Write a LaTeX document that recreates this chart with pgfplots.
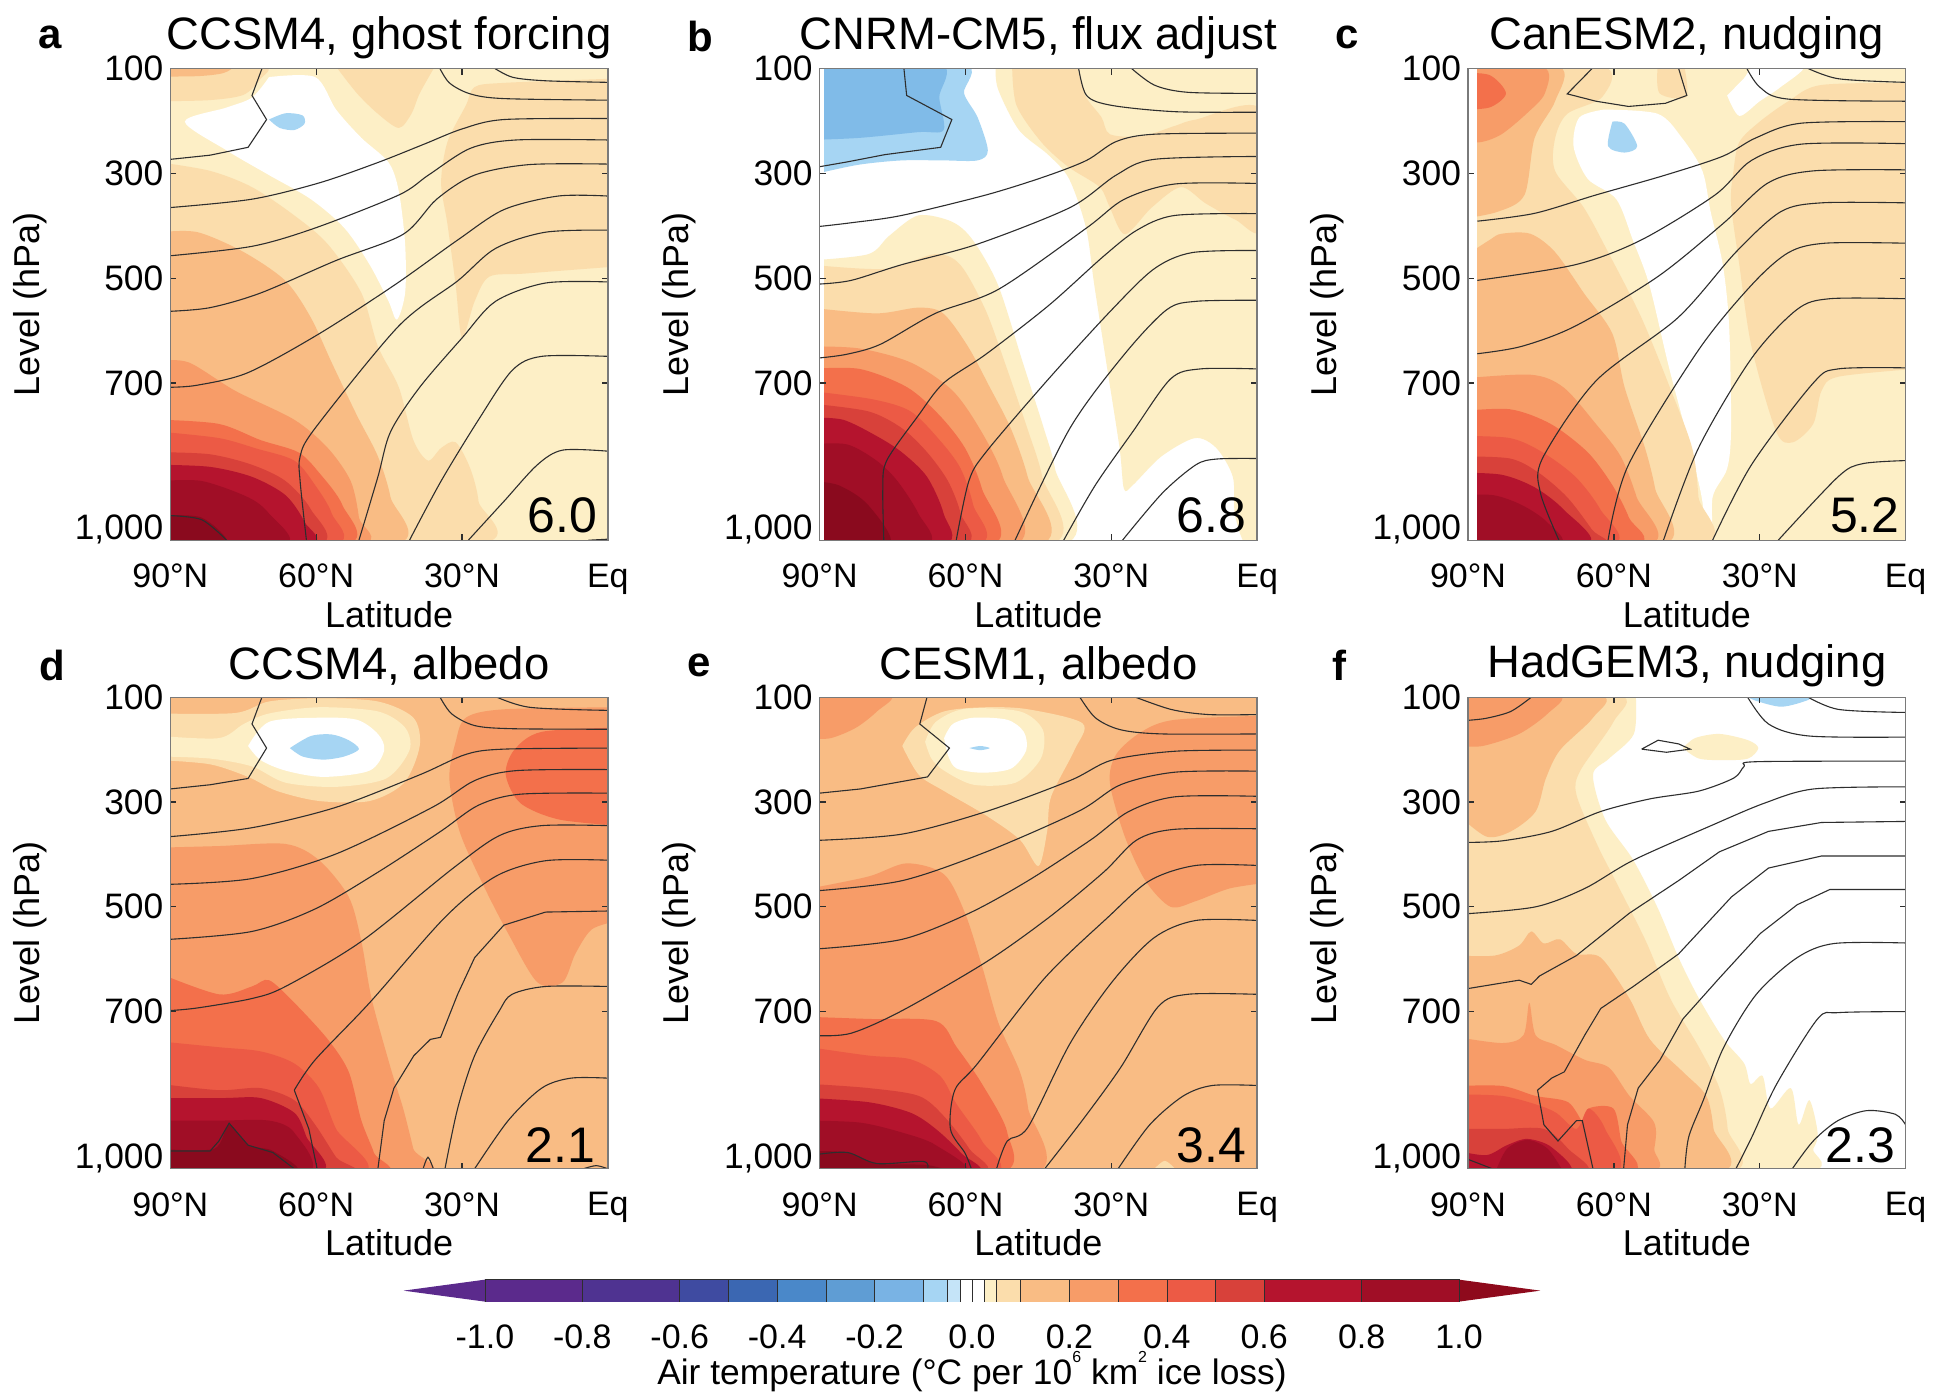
\documentclass[border=0pt]{standalone}
\usepackage{fontspec}
\usepackage{pgfplots}
\pgfplotsset{compat=1.18}
\setmainfont{Liberation Sans}
\definecolor{cb}{HTML}{FDEFC6}
\definecolor{cc}{HTML}{FBDDAC}
\definecolor{cd}{HTML}{F9BC84}
\definecolor{ce}{HTML}{F79C68}
\definecolor{cf}{HTML}{F3704B}
\definecolor{cg}{HTML}{EC5A45}
\definecolor{ch}{HTML}{D8413A}
\definecolor{ci}{HTML}{B5142E}
\definecolor{cj}{HTML}{A00E26}
\definecolor{ck}{HTML}{8A0A1E}
\definecolor{bla}{HTML}{A6D5F3}
\definecolor{blb}{HTML}{80BBE8}
\definecolor{HTMLa}{HTML}{5B2A8C}
\definecolor{HTMLb}{HTML}{4F3391}
\definecolor{HTMLc}{HTML}{3F4BA1}
\definecolor{HTMLd}{HTML}{3B67B2}
\definecolor{HTMLe}{HTML}{4A88C9}
\definecolor{HTMLf}{HTML}{5F9DD4}
\definecolor{HTMLg}{HTML}{79B3E4}
\definecolor{HTMLh}{HTML}{C5E4F8}
\definecolor{HTMLl}{HTML}{8E0A1C}
\definecolor{cline}{HTML}{2E2E2E}
\definecolor{axc}{HTML}{7A7A7A}
\newcommand{\reg}[2]{\addplot[fill=#1,draw=none,smooth,tension=.5] coordinates {#2};}
\newcommand{\bgr}[1]{\addplot[fill=#1,draw=none] coordinates {(-2,95)(92,95)(92,1010)(-2,1010)};}
\newcommand{\cnt}[1]{\addplot[cline,line width=.55pt,smooth,tension=.5] coordinates {#1};}
\newcommand{\cnts}[1]{\addplot[cline,line width=.55pt] coordinates {#1};}
\newcommand{\val}[3]{\node[font=\fontsize{25}{28}\selectfont,anchor=center] at (axis description cs:#1,#2) {#3};}
\newcommand{\lett}[3]{\node[font=\fontsize{21}{24}\selectfont\bfseries,anchor=center] at (#1*0.5pt,{(1394-#2)*0.5pt}) {#3};}
\pgfplotsset{panel/.style={
  anchor=south west, scale only axis, width=219pt, height=236pt,
  x dir=reverse, y dir=reverse, xmin=0, xmax=90, ymin=100, ymax=1000,
  xtick={0,30,60,90}, xticklabels={Eq,30°N,60°N,90°N},
  ytick={100,300,500,700,1000},
  yticklabels={\raisebox{-9pt}{100},300,500,700,\raisebox{13pt}{1,000}},
  tick align=inside, major tick length=3pt, xtick pos=both, ytick pos=both,
  tick style={cline,line width=.6pt},
  axis line style={axc,line width=.7pt},
  axis on top,
  xticklabel style={font=\fontsize{17}{20}\selectfont,yshift=-8.4pt},
  yticklabel style={font=\fontsize{17.7}{20}\selectfont},
  xlabel={Latitude}, ylabel={Level (hPa)},
  every axis x label/.style={at={(axis description cs:0.5,-0.157)},anchor=center,font=\fontsize{18}{20}\selectfont,inner sep=0pt},
  every axis y label/.style={at={(axis description cs:-0.321,0.5)},anchor=center,rotate=90,font=\fontsize{18}{20}\selectfont,inner sep=0pt},
  every axis title/.style={at={(axis description cs:0.5,1.066)},anchor=center,font=\fontsize{22.75}{26}\selectfont,inner sep=0pt},
}}
\begin{document}
\begin{tikzpicture}
\path (0,0) rectangle (966.5pt,697pt);
\lett{50}{37}{a}\lett{701}{37}{b}\lett{1349}{37}{c}
\lett{52}{666}{d}\lett{700}{666}{e}\lett{1341}{666}{f}
% ---------- a
\begin{axis}[panel,at={(85.25pt,426.6pt)},title={CCSM4, ghost forcing}]
\bgr{cb}
\reg{cc}{(92,162)(82,160)(75,150)(71.5,120)(71,95)(92,95)}
\reg{cd}{(92,115)(84,114)(79,108)(78,95)(92,95)}
\reg{white}{(69.7,116)(60.2,116)(55.9,178)(50.7,232)(45.1,279)(43,334)(41.7,435)(41.7,528)(43.4,579)(45.1,544)(49,474)(54.2,404)(61.1,349)(69.7,303)(78.4,256)(87,201)(78.4,174)(73.2,155)(69.7,116)}
\reg{bla}{(69.7,197)(66.3,185)(62.8,189)(62.4,205)(64.5,217)(67.5,213)(69.7,197)}
\reg{cc}{(55.9,96)(51.6,147)(47.3,186)(43,213)(40.4,186)(38.7,147)(35.6,96)}
\reg{cc}{(-1,119)(21.4,127)(27.4,135)(29.2,170)(33,240)(34.3,318)(33,396)(31.3,513)(30,614)(27.4,544)(24.4,497)(17.1,491)(-1,478)}
\reg{cc}{(92,279)(81.8,295)(73.2,326)(64.5,380)(57.6,435)(50.7,528)(47.3,630)(43,708)(40,809)(37,848)(34.3,824)(31.3,813)(28.3,863)(26.6,926)(26.8,1008)(92,1010)}
\reg{cd}{(92,412)(84.4,412)(74.9,450)(66.3,505)(61.1,575)(56.8,661)(51.6,762)(47.3,840)(44.7,918)(43.8,1008)(92,1010)}
\reg{ce}{(92,657)(86.1,661)(76.6,715)(64.5,770)(57.6,824)(52.9,887)(51.2,957)(51.2,1008)(92,1010)}
\reg{cf}{(92,770)(80,778)(71.4,809)(63.7,832)(59.4,871)(54.6,933)(53.8,1008)(92,1010)}
\reg{cg}{(92,793)(80,805)(72.3,825)(64.5,848)(60.2,895)(56.8,949)(56.4,1008)(92,1010)}
\reg{ch}{(92,832)(81.8,836)(73.2,856)(66.3,887)(61.1,941)(59.4,1008)(92,1010)}
\reg{ci}{(92,856)(81.8,860)(73.2,879)(66.3,914)(62.4,965)(61.5,1008)(92,1010)}
\reg{cj}{(92,887)(83.5,887)(74,918)(69.7,949)(66.3,1008)(92,1010)}
\reg{ck}{(92,953)(83.5,957)(78.4,1008)(92,1010)}
\cnt{(24,95)(19.7,116)(12.8,123)(0,126)}
\cnt{(34.8,95)(32.6,127)(28.3,148)(21.4,157)(0,160)}
\cnts{(71,96)(73.2,151)(70.2,197)(74,250)(81.8,265)(90,273)}
\cnt{(0,195)(21.4,197)(30,215)(37.8,244)(47.3,279)(59.4,318)(73.2,349)(90,365)}
\cnt{(0,236)(18.9,236)(28.3,252)(36.9,303)(43,341)(60.2,404)(73.2,439)(90,457)}
\cnt{(0,282)(16.2,283)(27.4,303)(35.2,349)(42.1,416)(55.9,466)(71.4,528)(81.8,556)(90,563)}
\cnt{(0,343)(10.2,343)(21.4,369)(30.9,427)(43.9,513)(59.4,606)(74,680)(84.4,704)(90,708)}
\cnt{(0,408)(12.8,412)(23.1,443)(30.9,505)(43,591)(60.2,786)(63.3,840)(63.3,887)(62,1000)}
\cnt{(0,507)(12.8,509)(23.1,544)(30,614)(38.7,708)(44.7,793)(47.3,879)(51.2,1000)}
\cnt{(0,649)(13.6,649)(19.7,676)(26.6,770)(34.3,887)(40.8,1000)}
\cnt{(0,830)(9.3,828)(14.5,856)(21.4,926)(28.7,1000)}
\cnt{(90,953)(83.5,961)(78.4,1000)}
\cnt{(4,1000)(0,998)}
\val{0.896}{0.052}{6.0}
\end{axis}
% ---------- b
\begin{axis}[panel,at={(410.25pt,426.6pt)},title={CNRM-CM5, flux adjust}]
\bgr{white}
\reg{cb}{(53.8,96)(53.3,139)(49,217)(43,264)(38.7,310)(35.2,404)(33.5,513)(30.9,669)(28.3,824)(27.4,902)(25.6,895)(19.7,840)(12.8,805)(8.4,824)(5,879)(4.6,949)(2.4,1008)(-2,1010)(-2,95)}
\reg{cc}{(50.4,96)(49.5,170)(44.4,240)(38.9,287)(32.4,326)(30.3,365)(27.2,416)(21.7,365)(15.7,326)(10.6,357)(4.5,388)(-1,404)(-1,179)(12.6,197)(16.9,209)(23.8,229)(30.3,225)(32,193)(35.4,151)(37,96)}
\reg{bla}{(92,90)(60.6,90)(60.3,147)(57.5,193)(55.4,256)(57.5,275)(64.5,275)(73.1,275)(81.8,283)(90,299)(92,305)}
\reg{blb}{(92,90)(65.4,90)(65.4,155)(64.5,217)(69.7,221)(81.8,232)(92,236)}
\reg{cb}{(92,466)(80,454)(75.7,419)(69.7,380)(62.8,392)(58.5,427)(53.3,513)(48.2,661)(43.9,786)(41.6,863)(39.8,1008)(92,1010)}
\reg{cc}{(92,474)(76.6,482)(66.3,454)(61.1,474)(55.9,560)(51.6,669)(47.3,786)(44.2,879)(42.5,1008)(92,1010)}
\reg{cd}{(92,556)(78.4,567)(69.7,556)(64.6,567)(59.5,630)(55,708)(50.7,786)(47.2,879)(44.6,1008)(92,1010)}
\reg{ce}{(92,630)(81.8,634)(71.2,661)(62.6,715)(56.7,793)(52.3,879)(49.8,1008)(92,1010)}
\reg{cf}{(92,673)(81.8,673)(72,708)(65.3,762)(60.1,824)(56.6,902)(54.5,1008)(92,1010)}
\reg{cg}{(92,715)(79.1,731)(71.3,754)(65.3,809)(61,863)(58.4,933)(57.5,1008)(92,1010)}
\reg{ch}{(92,739)(80,754)(73.1,786)(67.9,832)(63.6,887)(61,949)(60.6,1008)(92,1010)}
\reg{ci}{(92,766)(85.2,770)(78.3,801)(73.1,832)(67.9,879)(64.5,949)(64.5,1008)(92,1010)}
\reg{cj}{(92,817)(84.4,817)(78.3,848)(74,887)(69.7,949)(68,1008)(92,1010)}
\reg{ck}{(92,887)(86.1,895)(80,933)(75.7,1008)(92,1010)}
\addplot[fill=white,draw=none] coordinates {(92,95)(89.1,95)(89.1,1010)(92,1010)};
\cnt{(26.4,95)(21.2,131)(14.3,145)(0,147)}
\cnt{(36.8,95)(35.1,151)(29.9,170)(16.9,182)(0,183)}
\cnts{(72.7,96)(72.1,151)(62.8,197)(65.1,250)(76.6,264)(84.4,278)(90,287)}
\cnt{(0,223)(21.2,225)(29,239)(35.1,275)(43.7,306)(55.8,341)(73.1,380)(83.5,394)(90,401)}
\cnt{(0,267.5)(21.2,273)(29,303)(38.5,365)(57.6,435)(73.1,474)(83.5,504)(90,511)}
\cnt{(0,319)(16.9,320)(27.3,349)(35.1,404)(53.2,521)(66.2,567)(77.5,626)(84.4,645)(90,652)}
\cnt{(0,376.5)(16.9,380)(24.7,408)(31.6,458)(42.9,552)(55.8,645)(64.5,700)(69.7,762)(76.2,848)(77,902)(76.8,1000)}
\cnt{(0,447)(13.4,451)(21.2,482)(29.9,560)(42.9,692)(55.8,832)(59.3,887)(61.9,1000)}
\cnt{(0,542)(12.6,544)(18.6,560)(27.3,645)(38.5,786)(49.8,1000)}
\cnt{(0,673)(11.7,673)(17.8,692)(25.6,793)(33.3,895)(39.8,1000)}
\cnt{(0,844)(8.3,845)(12.6,856)(19.5,910)(27.7,1000)}
\val{0.896}{0.052}{6.8}
\end{axis}
% ---------- c
\begin{axis}[panel,at={(734.8pt,426.6pt)},title={CanESM2, nudging}]
\bgr{cb}
\reg{white}{(62,178)(51,186)(46,232)(41.8,295)(40.1,373)(37.6,474)(36.3,591)(35.9,786)(36.7,863)(39.7,918)(39.7,1008)(41.3,1008)(41.8,926)(44.3,824)(48.7,669)(52.7,513)(56.1,427)(59.5,349)(65.4,310)(68.3,248)(67.1,193)(62,178)}
\reg{white}{(36.7,151)(33.3,119)(30.8,96)(21,96)(25.7,135)(30,162)(34.2,190)(36.7,151)}
\reg{bla}{(60.3,201)(57.8,205)(55.2,248)(57.8,260)(61.2,248)(60.3,201)}
\reg{cc}{(92,95)(62.4,96)(62.4,154)(69.6,186)(72.1,233)(72.1,295)(66.2,365)(61.2,450)(54.4,574)(48.5,708)(43.9,824)(42.6,918)(42.2,1008)(92,1010)}
\reg{cc}{(51,96)(50.6,147)(45.1,154)(45.5,96)}
\reg{cd}{(92,95)(71.3,96)(72.1,162)(76.3,232)(78.4,341)(83.9,373)(92,388)}
\reg{ce}{(92,95)(74.7,96)(74.2,147)(78,186)(83.1,225)(87.3,240)(92,240)}
\reg{cf}{(92,108)(85.6,112)(82.2,147)(85.6,174)(92,178)}
\reg{cc}{(-2,127)(17.3,131)(24.1,162)(30,201)(34.2,240)(35.4,295)(35.9,357)(34.2,474)(31.7,630)(26.6,793)(23.2,813)(19,778)(17.3,715)(13.9,688)(-2,673)}
\reg{cd}{(92,466)(85.6,427)(83.1,415)(77.2,415)(72.1,450)(66.2,528)(60.3,606)(57.8,708)(53.6,824)(51.5,902)(49.8,1008)(92,1010)}
\reg{ce}{(92,692)(77.2,684)(70.4,708)(63.7,778)(58.6,840)(55.3,918)(52.7,1008)(92,1010)}
\reg{cf}{(92,754)(81.4,750)(73,778)(65.4,832)(60.3,895)(56.9,957)(55.7,1008)(92,1010)}
\reg{cg}{(92,801)(81.4,805)(74.7,832)(67.9,879)(62.8,941)(60.3,1008)(92,1010)}
\reg{ch}{(92,840)(81.4,844)(75.5,871)(69.6,918)(64.5,980)(62.8,1008)(92,1010)}
\reg{ci}{(92,871)(83.1,875)(76.3,899)(70.4,941)(65.4,1008)(92,1010)}
\reg{cj}{(92,914)(84.8,914)(78.9,933)(73.8,965)(71.3,1008)(92,1010)}
\addplot[fill=white,draw=none] coordinates {(92,95)(88.1,95)(88.1,1010)(92,1010)};
\cnts{(64.1,96)(69.6,148)(63.7,162)(57,172)(49.4,166)(45,151)(46.8,96)}
\cnt{(21.1,95)(13.9,119)(0,126)}
\cnt{(32.9,95)(30,135)(24.1,158)(0,162)}
\cnt{(0,201)(21.5,204)(30.8,232)(37.6,267)(49.4,303)(63.7,341)(76.3,376)(88.1,391)}
\cnt{(0,243)(21.5,244)(31.7,275)(39.2,341)(54.4,427)(67.9,474)(88.1,504)}
\cnt{(0,293)(19,295)(28.3,318)(37.6,396)(51,497)(67.9,591)(79,630)(88.1,644)}
\cnt{(0,356)(17.3,356)(25.7,373)(34.9,450)(46.8,575)(63.7,696)(74.7,844)(75.1,910)(71.3,1000)}
\cnt{(0,433)(16.5,433)(24.1,451)(31.7,513)(42.6,637)(57,856)(61.2,1000)}
\cnt{(0,539)(15.6,539)(22.4,560)(31.7,653)(42.6,824)(49.8,1000)}
\cnt{(0,671)(13.9,673)(19,700)(31.7,856)(39.7,1000)}
\cnt{(0,848)(8.9,854)(13.9,879)(26.2,1000)}
\val{0.907}{0.052}{5.2}
\end{axis}
% ---------- d
\begin{axis}[panel,at={(85.25pt,112pt)},title={CCSM4, albedo}]
\bgr{cd}
\reg{cc}{(92,131)(76.6,130)(69.7,108)(59.4,102)(47.3,108)(40,139)(38.7,193)(41.9,263)(49,298)(59.4,298)(68,279)(74,252)(81.8,228)(92,220)}
\reg{cb}{(92,174)(80,178)(74.9,151)(69.7,131)(59.4,119)(47.3,127)(41.7,158)(40.8,201)(45.6,255)(55.9,271)(66.3,263)(73.2,232)(81.8,217)(92,213)}
\reg{white}{(74,193)(69.7,147)(59.4,139)(51.6,143)(47.3,170)(46,201)(49,240)(58.5,252)(66.3,240)(71.4,220)(74,193)}
\reg{bla}{(65.4,197)(61.1,174)(56.8,171)(53.3,182)(51.2,199)(54.2,213)(58.5,219)(62.8,213)(65.4,197)}
\reg{ce}{(-2,119)(21.4,123)(29.2,139)(31.3,185)(32.6,255)(30.5,356)(25.7,457)(20.5,551)(14.5,644)(9.3,644)(6.7,590)(3.3,543)(-2,527)}
\reg{cf}{(-2,158)(13.6,166)(19.3,201)(21,248)(18,302)(10.2,333)(-2,345)}
\reg{ce}{(92,387)(80,384)(66.3,380)(59.4,411)(53.3,481)(50.7,566)(48.6,675)(44.7,807)(42.1,885)(40,962)(38.7,1009)(92,1010)}
\reg{cf}{(92,628)(80,667)(73.2,652)(69.7,640)(64.5,683)(57.6,753)(53.3,815)(50.7,908)(48.1,970)(47.3,1009)(92,1010)}
\reg{cg}{(92,757)(80,768)(71.4,776)(64.5,799)(59.4,846)(55.9,924)(50.7,1009)(92,1010)}
\reg{ch}{(92,838)(80,850)(71.4,846)(64.5,869)(60.2,916)(55.9,978)(53.3,1009)(92,1010)}
\reg{ci}{(92,865)(79.2,865)(71.4,865)(64.5,893)(62,939)(59.4,1009)(92,1010)}
\reg{cj}{(92,908)(80,908)(69.7,908)(64.5,931)(62,1009)(92,1010)}
\reg{ck}{(92,962)(81,962)(77.9,916)(74,955)(68.9,966)(64.5,1009)(92,1010)}
\cnt{(24,95)(16.2,119)(0,125)}
\cnt{(34.8,95)(32.2,131)(27.4,154)(19.7,160)(0,161)}
\cnts{(71,96)(73.2,151)(70.2,197)(74,255)(81.8,267)(90,275)}
\cnt{(0,197)(21.4,199)(29.2,209)(38.7,248)(55.9,310)(73.2,349)(90,366)}
\cnt{(0,238)(18.8,240)(27.4,259)(36.1,310)(55.9,399)(73.2,446)(90,457)}
\cnt{(0,283)(18,285)(26.6,306)(34.4,356)(47.3,434)(60.2,504)(73.2,547)(90,562)}
\cnt{(0,345)(13.6,345)(22.3,364)(31.8,426)(50.7,566)(66.3,652)(73.2,675)(84.4,693)(90,698)}
\cnt{(0,411)(12.8,412)(23.1,442)(33.5,520)(49,683)(60.2,792)(64.5,850)}
\cnts{(64.5,850)(61.5,924)(59.8,1000)}
\cnts{(0,508)(12.8,510)(21.4,535)(27.4,597)(30.9,667)(34.4,749)(36.5,753)(39.9,784)(44,846)(46,908)(47.3,1000)}
\cnt{(0,652)(12.8,652)(19.7,667)(22.3,698)(27.4,784)(30.9,885)(33.5,1000)}
\cnt{(0,827)(7.6,827)(13.6,846)(20.5,908)(27.4,1000)}
\cnts{(90,966)(81.8,966)(80,947)(77.9,913)(74,955)(68.9,969)(64.5,1000)}
\cnt{(38,1000)(37,978)(35.9,1000)}
\cnt{(5,1000)(2.4,994)(0,1000)}
\val{0.892}{0.05}{2.1}
\end{axis}
% ---------- e
\begin{axis}[panel,at={(410.25pt,112pt)},title={CESM1, albedo}]
\bgr{cd}
\reg{cc}{(73,193)(70.4,158)(64.4,127)(55.7,119)(47.1,123)(35.9,150)(37.6,201)(42.4,290)(43.2,356)(45,422)(48.8,372)(55.7,326)(64.4,279)(69.6,248)(73,193)}
\reg{cb}{(68.3,185)(66.1,147)(60.1,122)(48.8,127)(44.1,162)(44.5,217)(49.7,263)(58.3,267)(64.4,240)(67,217)(68.3,185)}
\reg{white}{(64.4,178)(62.6,151)(58.3,139)(51.4,143)(48,166)(47.5,201)(50.6,236)(56.6,244)(61.8,236)(63.5,213)(64.4,178)}
\reg{bla}{(59.2,197)(57,193)(55,197)(57,201)(59.2,197)}
\reg{ce}{(92,95)(75.6,96)(78.2,127)(82.5,158)(87.7,178)(92,179)}
\reg{ce}{(-2,135)(16.9,143)(23.8,166)(29,209)(30.3,263)(27.3,364)(23,450)(17.8,500)(12.6,489)(5.7,465)(-2,454)}
\reg{ce}{(92,465)(79.9,442)(72.1,417)(64.4,438)(60.1,512)(56.6,613)(53.2,722)(48.8,815)(47.1,885)(45.8,1009)(92,1010)}
\reg{cf}{(92,710)(79.9,714)(66.1,718)(61.8,768)(56.6,838)(51.4,931)(53.2,1009)(92,1010)}
\reg{cg}{(92,768)(79.9,784)(71.3,791)(65.2,823)(61.8,877)(56.6,947)(54.5,1009)(92,1010)}
\reg{ch}{(92,838)(79.9,846)(69.6,861)(64.4,900)(59.2,962)(57,1009)(92,1010)}
\reg{ci}{(92,865)(79.9,873)(71.3,893)(66.1,924)(60.9,970)(58.3,1009)(92,1010)}
\reg{cj}{(92,908)(81.6,912)(73,931)(66.1,955)(60.5,1009)(92,1010)}
\reg{ck}{(92,966)(84.2,969)(78.2,990)(67.8,993)(64.4,1009)(92,1010)}
\reg{cc}{(22,1009)(19,985)(16,1009)}
\cnt{(26.4,95)(17.8,123)(10,133)(0,133)}
\cnt{(36.8,95)(33.3,139)(28.1,162)(19.5,170)(0,170)}
\cnts{(67.8,96)(69.4,151)(63.3,197)(67.8,252)(81.6,275)(90,283)}
\cnt{(0,201)(16.9,203)(29.9,220)(38.5,259)(55.7,318)(72.9,361)(90,373)}
\cnt{(0,241)(16.9,243)(28.1,267)(36.8,318)(55.7,395)(73,450)(90,469)}
\cnt{(0,289)(16.9,290)(26.4,318)(34.2,372)(47.1,450)(59.2,512)(73,562)(90,580)}
\cnt{(0,351)(16.9,352)(24.7,372)(31.6,434)(42.8,520)(55.7,605)(73,698)(83.4,741)(90,746)}
\cnt{(0,421)(12.6,421)(22.1,450)(30.7,520)(43.7,636)(57.5,799)(62.2,850)(63.1,924)(60.1,970)(58.8,1000)}
\cnt{(0,526)(12.6,526)(21.2,559)(29.9,644)(38.5,761)(47.1,920)(51.4,947)(53.6,1000)}
\cnt{(0,667)(14.3,667)(20.4,691)(28.1,807)(36,908)(43.7,1000)}
\cnt{(0,841)(9.2,841)(15.2,861)(22.1,916)(28.6,1000)}
\cnt{(90,972)(84.2,969)(78.2,990)(68.7,986)(67.8,1000)}
\val{0.896}{0.05}{3.4}
\end{axis}
% ---------- f
\begin{axis}[panel,at={(734.8pt,112pt)},title={HadGEM3, nudging}]
\bgr{white}
\reg{cb}{(55.5,96)(55.9,170)(61,217)(64.3,248)(61.8,333)(56,411)(50.9,504)(46.7,597)(42.5,675)(37.4,753)(33.2,799)(31.9,838)(29.4,823)(27.8,885)(23.6,846)(22,916)(19.8,869)(18.1,931)(19,962)(22.7,1009)(92,1010)(92,95)}
\reg{cb}{(45.8,197)(43.3,178)(38.3,170)(32.4,182)(30.3,197)(32.4,217)(37.4,220)(42.5,217)(45.8,197)}
\reg{cc}{(92,95)(59.3,96)(60.1,147)(66.9,240)(67.7,286)(63.5,380)(59.3,457)(53.4,566)(48.4,675)(42.5,768)(38.3,846)(36.6,924)(37,1009)(92,1010)}
\reg{cd}{(92,95)(63.1,96)(64.3,139)(71.1,201)(74,255)(76.1,318)(81.2,356)(86.2,366)(92,325)}
\reg{ce}{(92,95)(71.5,96)(73.6,131)(79.5,170)(87,193)(92,193)}
\reg{cd}{(92,593)(84.5,593)(79.5,574)(77,547)(74.4,570)(71.1,562)(67.7,590)(62.7,597)(56.8,675)(52.6,753)(45.8,815)(41,861)(39.5,924)(39,1009)(92,1010)}
\reg{ce}{(92,749)(82.9,760)(78.6,745)(77.4,683)(76.1,745)(71.9,764)(66,792)(61,807)(56.8,861)(51.7,912)(51.7,962)(53.4,1009)(92,1010)}
\reg{cf}{(92,842)(82.9,842)(76.1,861)(69.4,873)(66,916)(65.2,885)(60.1,885)(58.5,947)(56.8,1009)(92,1010)}
\reg{cg}{(92,858)(82.9,861)(76.1,877)(71.9,893)(67.7,924)(65.2,885)(61.8,924)(60.1,1009)(92,1010)}
\reg{ch}{(92,924)(82.9,924)(74.4,924)(69.4,962)(66,1009)(92,1010)}
\reg{ci}{(92,966)(86.2,974)(82,955)(77.8,943)(72.8,959)(69.4,1009)(92,1010)}
\reg{cj}{(84.5,1009)(82,962)(77.8,945)(73.6,962)(70.2,1009)}
\reg{bla}{(33,96)(31,106)(25.5,118)(20,105)(20,96)}
\cnt{(21,95)(13.9,123)(0,129)}
\cnt{(32.8,95)(28.2,151)(19.8,174)(0,176)}
\cnt{(77,100)(81.2,127)(86.2,140)(90,144)}
\cnts{(54.3,199)(50.9,182)(46.7,189)(44.3,199)(49.2,205)(54.3,199)}
\cnt{(0,222)(30.7,223)(33.2,232)(35.3,254)(42.5,279)(52.6,294)(62.7,318)(72.8,356)(82.9,374)(90,377)}
\cnt{(0,271)(18.9,275)(29,302)(40,345)(56,411)(66,465)(76.1,500)(90,513)}
\cnts{(0,337)(17.3,339)(28.2,356)(38.3,395)(46.7,450)(56.8,512)(67.7,593)(75.3,632)(77,648)(79.5,640)(90,656)}
\cnts{(0,403)(17.3,403)(28.2,426)(35.8,481)(46.7,590)(56,652)(62.7,694)(66,745)(70.2,815)(72.8,827)(75.7,850)(74.4,916)(71.5,947)(67.7,908)(66.5,908)(64.3,1000)}
\cnts{(0,467)(15.6,467)(22.3,496)(29.9,551)(38.3,636)(45.8,714)(50.5,792)(55,846)(57.2,916)(58,1000)}
\cnt{(0,569)(14.7,570)(22.3,597)(30.7,667)(37.4,768)(41.6,869)(44.6,939)(45.4,1000)}
\cnt{(0,700)(13.9,702)(18.1,714)(26.5,838)(31.6,939)(34.9,1000)}
\cnt{(0,916)(2.1,896)(8,889)(13.9,908)(19,947)(23.3,1000)}
\cnt{(90,982)(85,1000)}
\val{0.897}{0.05}{2.3}
\end{axis}
% ---------- colour bar
\begin{axis}[anchor=south west,at={(202pt,45.5pt)},scale only axis,width=569pt,height=11pt,
  xmin=-1.167,xmax=1.167,ymin=0,ymax=1,
  axis x line*=bottom, axis y line=none,
  x axis line style={draw=none}, tick style={draw=none},
  xtick={-1,-0.8,-0.6,-0.4,-0.2,0,0.2,0.4,0.6,0.8,1},
  xticklabels={-1.0,-0.8,-0.6,-0.4,-0.2,0.0,0.2,0.4,0.6,0.8,1.0},
  tick label style={font=\fontsize{17}{20}\selectfont},
  xticklabel style={yshift=-8pt},
  xlabel={Air temperature (°C per 10\raisebox{.62em}{\fontsize{8}{8}\selectfont 6} km\raisebox{.62em}{\fontsize{8}{8}\selectfont 2} ice loss)},
  every axis x label/.style={at={(axis description cs:0.5,-3.2)},anchor=center,inner sep=0pt,font=\fontsize{17.7}{20}\selectfont},
]
\addplot[fill=HTMLa,draw=none] coordinates {(-1.167,0.5)(-1,1)(-1,0)};
\addplot[fill=HTMLl,draw=none] coordinates {(1.167,0.5)(1,1)(1,0)};
\addplot[fill=HTMLa,draw=cline,line width=.3pt] coordinates {(-1,0)(-1,1)(-0.8,1)(-0.8,0)};
\addplot[fill=HTMLb,draw=cline,line width=.3pt] coordinates {(-0.8,0)(-0.8,1)(-0.6,1)(-0.6,0)};
\addplot[fill=HTMLc,draw=cline,line width=.3pt] coordinates {(-0.6,0)(-0.6,1)(-0.5,1)(-0.5,0)};
\addplot[fill=HTMLd,draw=cline,line width=.3pt] coordinates {(-0.5,0)(-0.5,1)(-0.4,1)(-0.4,0)};
\addplot[fill=HTMLe,draw=cline,line width=.3pt] coordinates {(-0.4,0)(-0.4,1)(-0.3,1)(-0.3,0)};
\addplot[fill=HTMLf,draw=cline,line width=.3pt] coordinates {(-0.3,0)(-0.3,1)(-0.2,1)(-0.2,0)};
\addplot[fill=HTMLg,draw=cline,line width=.3pt] coordinates {(-0.2,0)(-0.2,1)(-0.1,1)(-0.1,0)};
\addplot[fill=bla,draw=cline,line width=.3pt] coordinates {(-0.1,0)(-0.1,1)(-0.05,1)(-0.05,0)};
\addplot[fill=HTMLh,draw=cline,line width=.3pt] coordinates {(-0.05,0)(-0.05,1)(-0.025,1)(-0.025,0)};
\addplot[fill=white,draw=cline,line width=.3pt] coordinates {(-0.025,0)(-0.025,1)(0,1)(0,0)};
\addplot[fill=white,draw=cline,line width=.3pt] coordinates {(0,0)(0,1)(0.025,1)(0.025,0)};
\addplot[fill=cb,draw=cline,line width=.3pt] coordinates {(0.025,0)(0.025,1)(0.05,1)(0.05,0)};
\addplot[fill=cc,draw=cline,line width=.3pt] coordinates {(0.05,0)(0.05,1)(0.1,1)(0.1,0)};
\addplot[fill=cd,draw=cline,line width=.3pt] coordinates {(0.1,0)(0.1,1)(0.2,1)(0.2,0)};
\addplot[fill=ce,draw=cline,line width=.3pt] coordinates {(0.2,0)(0.2,1)(0.3,1)(0.3,0)};
\addplot[fill=cf,draw=cline,line width=.3pt] coordinates {(0.3,0)(0.3,1)(0.4,1)(0.4,0)};
\addplot[fill=cg,draw=cline,line width=.3pt] coordinates {(0.4,0)(0.4,1)(0.5,1)(0.5,0)};
\addplot[fill=ch,draw=cline,line width=.3pt] coordinates {(0.5,0)(0.5,1)(0.6,1)(0.6,0)};
\addplot[fill=ci,draw=cline,line width=.3pt] coordinates {(0.6,0)(0.6,1)(0.8,1)(0.8,0)};
\addplot[fill=cj,draw=cline,line width=.3pt] coordinates {(0.8,0)(0.8,1)(1,1)(1,0)};
\end{axis}
\end{tikzpicture}
\end{document}
